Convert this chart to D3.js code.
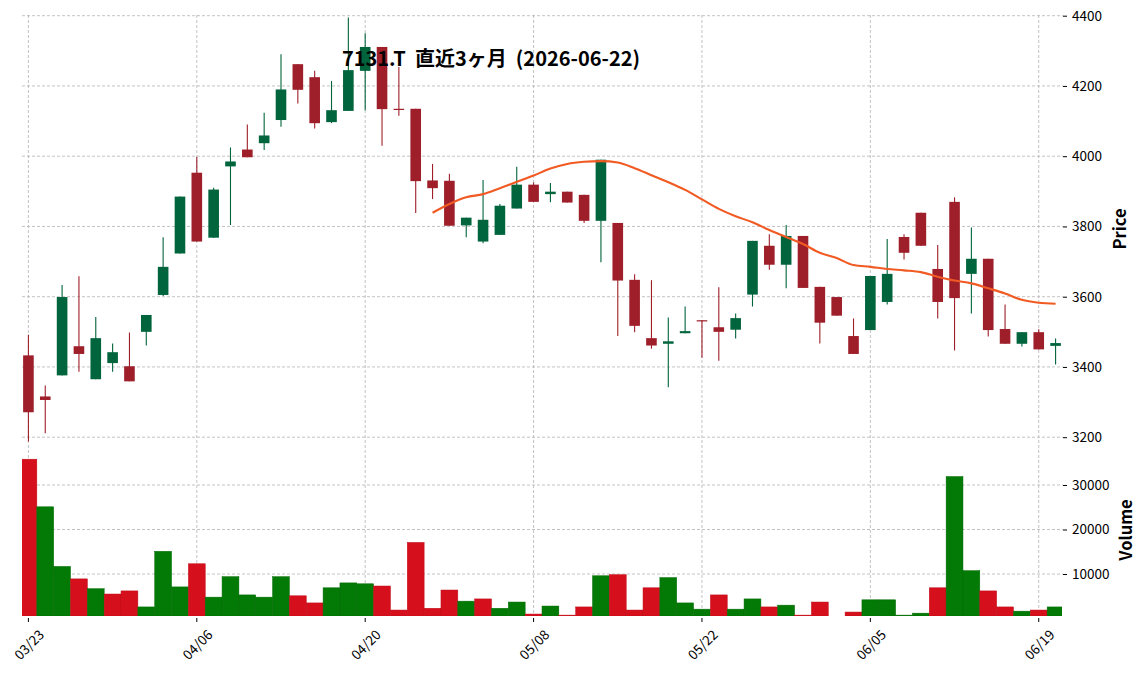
<!DOCTYPE html>
<html><head><meta charset="utf-8">
<script src="https://cdn.jsdelivr.net/npm/d3@7"></script>
<style>
html,body{margin:0;padding:0;background:#fff;}
svg{display:block;}
text{font-family:"Noto Sans CJK JP","Noto Sans",sans-serif;}
</style></head>
<body>
<svg id="chart" width="1144" height="673"></svg>
<script>
const title = "7131.T  直近3ヶ月  (2026-06-22)";
const dates = ["03/23","03/24","03/25","03/26","03/27","03/30","03/31","04/01","04/02","04/03",
"04/06","04/07","04/08","04/09","04/10","04/13","04/14","04/15","04/16","04/17",
"04/20","04/21","04/22","04/23","04/24","04/27","04/28","04/30","05/01","05/07",
"05/08","05/11","05/12","05/13","05/14","05/15","05/18","05/19","05/20","05/21",
"05/22","05/25","05/26","05/27","05/28","05/29","06/01","06/02","06/03","06/04",
"06/05","06/08","06/09","06/10","06/11","06/12","06/15","06/16","06/17","06/18",
"06/19","06/22"];
const opens = [3433,3316,3376,3459,3365,3411,3402,3500,3605,3723,
3953,3768,3971,4019,4037,4103,4262,4225,4097,4129,
4243,4311,4135,4135,3931,3930,3803,3757,3776,3851,
3919,3892,3899,3890,3816,3810,3648,3482,3466,3496,
3533,3513,3506,3606,3745,3691,3773,3628,3599,3488,
3505,3585,3770,3839,3679,3870,3665,3708,3508,3466,
3499,3460];
const highs = [3492,3347,3633,3658,3542,3467,3498,3548,3769,3885,
3998,3910,4025,4090,4124,4290,4262,4243,4214,4395,
4350,4311,4254,4135,3978,3950,3825,3932,3864,3970,
3925,3924,3899,3890,3990,3810,3664,3647,3541,3572,
3533,3627,3552,3759,3778,3804,3773,3628,3599,3538,
3659,3764,3778,3839,3747,3883,3797,3708,3578,3499,
3507,3481];
const lows = [3188,3211,3376,3386,3365,3386,3359,3461,3602,3723,
3757,3768,3804,3997,4018,4084,4150,4079,4094,4129,
4131,4030,4115,3838,3878,3802,3769,3752,3776,3851,
3870,3869,3868,3810,3698,3488,3499,3452,3342,3496,
3426,3418,3481,3572,3677,3624,3625,3467,3546,3437,
3505,3578,3706,3745,3538,3447,3552,3487,3466,3458,
3450,3407];
const closes = [3271,3306,3599,3437,3482,3442,3359,3548,3685,3885,
3757,3905,3985,3997,4059,4190,4189,4094,4131,4245,
4311,4134,4133,3929,3909,3802,3825,3819,3859,3919,
3870,3899,3868,3816,3990,3646,3517,3461,3473,3502,
3531,3500,3539,3759,3691,3773,3625,3526,3546,3437,
3659,3665,3725,3745,3585,3596,3708,3505,3466,3499,
3450,3468];
const volumes = [35800,25100,11700,8900,6700,5500,6200,2600,15100,7100,
12300,4800,9400,5300,4800,9400,5100,3500,6900,8000,
7800,7300,1900,17100,2300,6400,3900,4400,2300,3700,
1000,2800,760,2600,9600,9850,1900,6900,9200,3500,
2100,5300,2100,4400,2600,3000,760,3700,0,1450,
4200,4200,760,1200,6900,31900,10750,6200,2600,1650,
1900,2600];
const ma25 = [null,null,null,null,null,null,null,null,null,null,
null,null,null,null,null,null,null,null,null,null,
null,null,null,null,3839,3864,3883,3892,3909,3927,
3945,3965,3978,3984,3986,3982,3966,3946,3926,3904,
3877,3850,3829,3812,3790,3770,3750,3725,3710,3690,
3685,3679,3675,3670,3657,3646,3638,3624,3609,3591,
3583,3580];
const priceTicks = [3200,3400,3600,3800,4000,4200,4400];
const volumeTicks = [10000,20000,30000];
const xTickLabels = ["03/23","04/06","04/20","05/08","05/22","06/05","06/19"];

const svg = d3.select("#chart");
const L = 22, R = 1062, PT = 14, PB = 443, VT = 444, VB = 616;

const x = d3.scaleBand().domain(dates).range([20, 1064]).paddingInner(0).paddingOuter(0);
const bw = x.bandwidth();
const cx = d => x(d) + bw / 2;
const yP = d3.scaleLinear().domain([3200, 4400]).range([437.2, 15.7]);
const yV = d3.scaleLinear().domain([0, 30000]).range([618.5, 485]);

const defs = svg.append("defs");
defs.append("clipPath").attr("id","cp").append("rect").attr("x",L).attr("y",PT).attr("width",R-L).attr("height",PB-PT);
defs.append("clipPath").attr("id","cv").append("rect").attr("x",L).attr("y",VT).attr("width",R-L).attr("height",VB-VT);

const gridColor = "#b4b4b4";
const grid = svg.append("g");
grid.selectAll("line.hp").data(priceTicks).join("line")
  .attr("x1",L).attr("x2",1063).attr("y1",d=>yP(d)).attr("y2",d=>yP(d))
  .attr("stroke",gridColor).attr("stroke-width",0.8).attr("stroke-dasharray","3,2");
grid.selectAll("line.hv").data(volumeTicks).join("line")
  .attr("x1",L).attr("x2",1063).attr("y1",d=>yV(d)).attr("y2",d=>yV(d))
  .attr("stroke",gridColor).attr("stroke-width",0.8).attr("stroke-dasharray","3,2");
grid.selectAll("line.vv").data(xTickLabels).join("line")
  .attr("x1",d=>cx(d)).attr("x2",d=>cx(d)).attr("y1",15).attr("y2",VB)
  .attr("stroke",gridColor).attr("stroke-width",0.8).attr("stroke-dasharray","3,2");

const data = dates.map((d,i)=>({d, o:opens[i], h:highs[i], l:lows[i], c:closes[i], v:volumes[i], ma:ma25[i],
  up: closes[i] >= opens[i], vup: i>0 && closes[i] >= closes[i-1]}));

const upC = "#00643c", dnC = "#9e1f2a";
const vUp = "#037a05", vDn = "#d50f1c";

// volume
svg.append("g").attr("clip-path","url(#cv)").selectAll("rect").data(data.filter(e=>e.v>0)).join("rect")
  .attr("x",e=>x(e.d)).attr("width",bw)
  .attr("y",e=>yV(e.v)).attr("height",e=>Math.max(0, VB - yV(e.v)))
  .attr("fill",e=>e.vup?vUp:vDn)
  .attr("stroke",e=>e.vup?"#026a04":"#bf0d18").attr("stroke-width",0.5);

// candles
const cg = svg.append("g").attr("clip-path","url(#cp)");
const bodyW = bw * 0.63;
cg.selectAll("line.wick").data(data).join("line")
  .attr("x1",e=>cx(e.d)).attr("x2",e=>cx(e.d))
  .attr("y1",e=>yP(e.h)).attr("y2",e=>yP(e.l))
  .attr("stroke",e=>e.up?upC:dnC).attr("stroke-width",1.1);
cg.selectAll("rect.body").data(data).join("rect")
  .attr("x",e=>cx(e.d)-bodyW/2).attr("width",bodyW)
  .attr("y",e=>yP(Math.max(e.o,e.c)))
  .attr("height",e=>Math.max(1.2, Math.abs(yP(e.o)-yP(e.c))))
  .attr("fill",e=>e.up?upC:dnC);

// moving average
const line = d3.line().defined(e=>e.ma!=null).x(e=>cx(e.d)).y(e=>yP(e.ma)).curve(d3.curveMonotoneX);
cg.append("path").datum(data).attr("d",line).attr("fill","none")
  .attr("stroke","#f15a22").attr("stroke-width",2.1);

// axes
const axP = d3.axisRight(yP).tickValues(priceTicks).tickSize(4).tickPadding(5).tickFormat(d3.format("d"));
const gP = svg.append("g").attr("transform","translate(1063,0)").call(axP);
const axV = d3.axisRight(yV).tickValues(volumeTicks).tickSize(4).tickPadding(5).tickFormat(d3.format("d"));
const gV = svg.append("g").attr("transform","translate(1063,0)").call(axV);
[gP,gV].forEach(g=>{
  g.select(".domain").remove();
  g.selectAll(".tick line").attr("stroke","#000").attr("stroke-width",1);
  g.selectAll(".tick text").attr("font-family","'Noto Sans CJK JP'").attr("font-size","13.5px").attr("fill","#000");
});

const axX = d3.axisBottom(x).tickValues(xTickLabels).tickSize(4).tickPadding(0);
const gX = svg.append("g").attr("transform","translate(0,618)").call(axX);
gX.select(".domain").remove();
gX.selectAll(".tick line").attr("stroke","#000").attr("stroke-width",1);
gX.selectAll(".tick text")
  .attr("font-family","'Noto Sans CJK JP'").attr("font-size","13.5px").attr("fill","#000")
  .attr("text-anchor","middle").attr("dy",null).attr("y",null)
  .attr("dominant-baseline","central")
  .attr("transform","translate(0,26) rotate(-45)");

// title & labels
svg.append("text").attr("x",491).attr("y",66).attr("text-anchor","middle")
  .style("white-space","pre")
  .attr("font-size","20px").attr("font-weight","bold").attr("fill","#000").text(title);
svg.append("text").attr("transform","translate(1119,229) rotate(-90)").attr("text-anchor","middle")
  .attr("dominant-baseline","central").attr("font-size","16.5px").attr("font-weight","bold").text("Price");
svg.append("text").attr("transform","translate(1125,530) rotate(-90)").attr("text-anchor","middle")
  .attr("dominant-baseline","central").attr("font-size","16.5px").attr("font-weight","bold").text("Volume");
</script>
</body></html>
